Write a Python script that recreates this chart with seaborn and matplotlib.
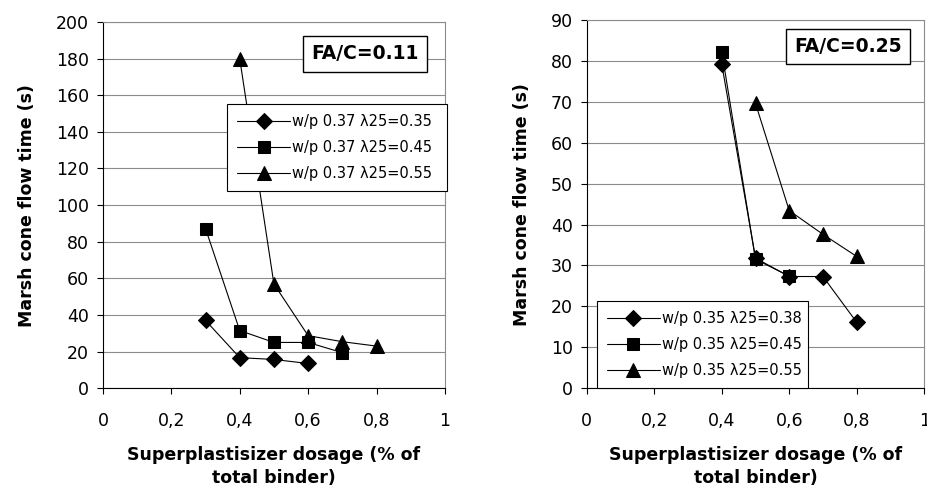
import matplotlib
matplotlib.use("Agg")
import matplotlib.pyplot as plt
import pandas as pd
import seaborn as sns

# left panel, FA/C = 0.11
left_labels = ["w/p 0.37 λ25=0.35", "w/p 0.37 λ25=0.45", "w/p 0.37 λ25=0.55"]
left_x = [[0.3, 0.4, 0.5, 0.6],
          [0.3, 0.4, 0.5, 0.6, 0.7],
          [0.4, 0.5, 0.6, 0.7, 0.8]]
left_y = [[37, 16.7, 15.7, 13.5],
          [87.2, 31.5, 25, 25, 19.4],
          [180, 56.9, 28.7, 25.4, 23]]

# right panel, FA/C = 0.25
right_labels = ["w/p 0.35 λ25=0.38", "w/p 0.35 λ25=0.45", "w/p 0.35 λ25=0.55"]
right_x = [[0.4, 0.5, 0.6, 0.7, 0.8],
           [0.4, 0.5, 0.6],
           [0.5, 0.6, 0.7, 0.8]]
right_y = [[79.2, 31.8, 27.3, 27.3, 16.1],
           [82.2, 31.5, 27.4],
           [69.6, 43.4, 37.6, 32.2]]

x_ticks = [0, 0.2, 0.4, 0.6, 0.8, 1]
x_ticklabels = ["0", "0,2", "0,4", "0,6", "0,8", "1"]

sns.set_style("white")
plt.rcParams['font.family'] = ['DejaVu Sans']
plt.rcParams['text.color'] = 'black'
plt.rcParams['axes.labelcolor'] = 'black'
plt.rcParams['xtick.color'] = 'black'
plt.rcParams['ytick.color'] = 'black'

markers = ["D", "s", "^"]
msizes = [8, 8, 10]


def to_frame(labels, xs, ys):
    rows = []
    for lab, xx, yy in zip(labels, xs, ys):
        for a, b in zip(xx, yy):
            rows.append({"dose": a, "time": b, "series": lab})
    return pd.DataFrame(rows)


def panel(ax, labels, xs, ys, ymax, ystep, tag, tag_pos, leg_box, leg_loc):
    df = to_frame(labels, xs, ys)
    for lab, m, ms in zip(labels, markers, msizes):
        sns.lineplot(data=df[df.series == lab], x="dose", y="time", ax=ax,
                     color="black", lw=0.8, marker=m, markersize=ms,
                     markeredgecolor="black", label=lab, sort=False)
    ax.set_xlim(0, 1)
    ax.set_ylim(0, ymax)
    ax.set_xticks(x_ticks)
    ax.set_xticklabels(x_ticklabels)
    ax.set_yticks(range(0, ymax + 1, ystep))
    ax.yaxis.grid(True, color="#8c8c8c", lw=0.8)
    ax.set_axisbelow(True)
    ax.tick_params(axis="both", labelsize=12.5, length=4, width=0.8,
                   direction="out", left=True, bottom=True)
    ax.tick_params(axis="x", pad=13)
    ax.tick_params(axis="y", pad=6)
    for s in ["top", "right"]:
        ax.spines[s].set_color("#8c8c8c")
        ax.spines[s].set_linewidth(0.8)
    for s in ["left", "bottom"]:
        ax.spines[s].set_color("black")
        ax.spines[s].set_linewidth(0.8)
    ax.set_xlabel("Superplastisizer dosage (% of\ntotal binder)",
                  fontsize=12.5, fontweight="bold", labelpad=12, linespacing=1.3)
    ax.set_ylabel("Marsh cone flow time (s)", fontsize=12.5, fontweight="bold",
                  labelpad=14)
    ax.text(tag_pos[0], tag_pos[1], tag, transform=ax.transAxes,
            fontsize=13.5, fontweight="bold", ha="center", va="center",
            bbox=dict(boxstyle="square,pad=0.45", fc="white", ec="black", lw=1))
    leg = ax.legend(loc=leg_loc, bbox_to_anchor=leg_box, mode="expand",
                    fontsize=10.5, frameon=True, fancybox=False,
                    handlelength=3.6, handletextpad=0.15, borderpad=0.7,
                    labelspacing=0.75, borderaxespad=0)
    leg.get_frame().set_edgecolor("black")
    leg.get_frame().set_linewidth(0.8)
    leg.get_frame().set_alpha(1)


fig = plt.figure(figsize=(9.27, 4.99), dpi=100)
ax1 = fig.add_axes([0.111, 0.222, 0.369, 0.734])
ax2 = fig.add_axes([0.633, 0.222, 0.364, 0.738])

panel(ax1, left_labels, left_x, left_y, 200, 20, "FA/C=0.11",
      (0.766, 0.913), (0.363, 0.0, 0.643, 0.776), "upper left")
panel(ax2, right_labels, right_x, right_y, 90, 10, "FA/C=0.25",
      (0.774, 0.928), (0.03, 0.0, 0.626, 0.24), "lower left")

fig.savefig("out.png", dpi=100)
